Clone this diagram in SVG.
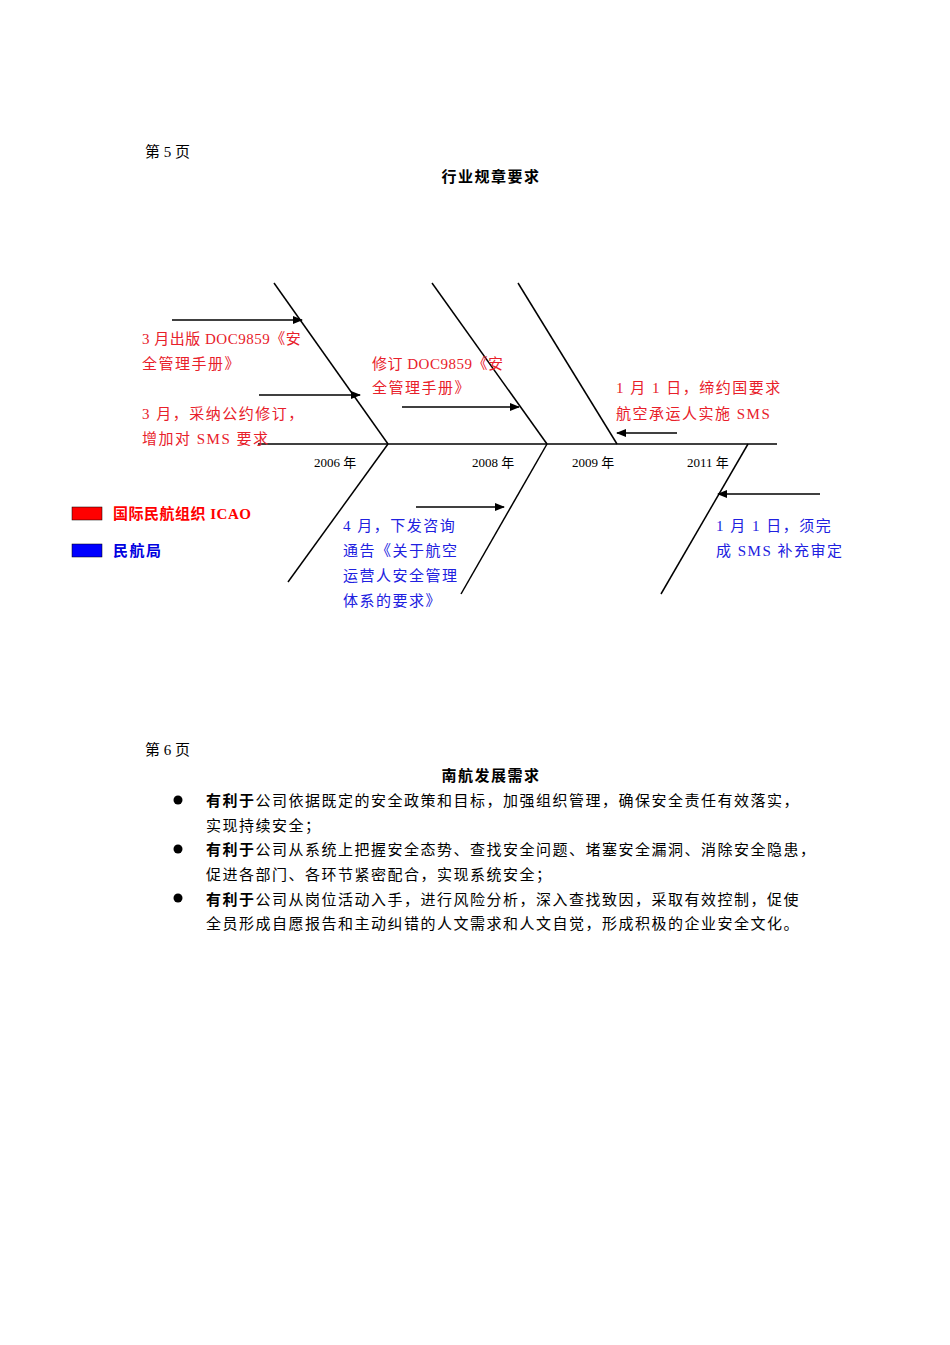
<svg xmlns="http://www.w3.org/2000/svg" width="950" height="1345" viewBox="0 0 950 1345">
<style>
text{font-family:"Liberation Serif","Noto Sans CJK SC",serif;font-size:15px;fill:#000;letter-spacing:1.5px}
.b{font-weight:bold}
.r{fill:#e8202a}
.bl{fill:#2020e0}
.yr{font-size:13px;letter-spacing:0}
.bone{stroke:#000;stroke-width:1.5;fill:none}
.arr{stroke:#000;stroke-width:1.3;fill:none;marker-end:url(#ah)}
</style>
<defs><marker id="ah" markerWidth="10" markerHeight="8" refX="9" refY="4" orient="auto" markerUnits="userSpaceOnUse"><path d="M0,0L10,4L0,8z" fill="#000"/></marker></defs>
<rect width="950" height="1345" fill="#fff"/>
<text x="145" y="157" style="letter-spacing:0">第 5 页</text>
<text x="491" y="182" text-anchor="middle" class="b">行业规章要求</text>
<g id="connectors">
<line class="bone" x1="258" y1="444" x2="777" y2="444" stroke-width="2"/>
<line class="bone" x1="274" y1="283" x2="388" y2="444"/>
<line class="bone" x1="388" y1="444" x2="288" y2="582"/>
<line class="bone" x1="432" y1="283" x2="547" y2="444"/>
<line class="bone" x1="547" y1="444" x2="461" y2="594"/>
<line class="bone" x1="518" y1="283" x2="617" y2="444"/>
<line class="bone" x1="748" y1="444" x2="661" y2="594"/>
<line class="arr" x1="172" y1="320" x2="302" y2="320"/>
<line class="arr" x1="259" y1="395" x2="360" y2="395"/>
<line class="arr" x1="402" y1="407" x2="519" y2="407"/>
<line class="arr" x1="677" y1="433" x2="617" y2="433"/>
<line class="arr" x1="416" y1="507" x2="504" y2="507"/>
<line class="arr" x1="820" y1="494" x2="718" y2="494"/>
</g>
<g id="years">
<text class="yr" x="314" y="467">2006 年</text>
<text class="yr" x="472" y="467">2008 年</text>
<text class="yr" x="572" y="467">2009 年</text>
<text class="yr" x="687" y="467">2011 年</text>
</g>
<g id="n1"><text class="r" x="142" y="344" style="letter-spacing:0.5px">3 月出版 DOC9859《安</text><text class="r" x="142" y="369">全管理手册》</text></g>
<g id="n2"><text class="r" x="142" y="419">3  月，采纳公约修订，</text><text class="r" x="142" y="444">增加对 SMS 要求</text></g>
<g id="n3"><text class="r" x="372" y="369" style="letter-spacing:0.5px">修订 DOC9859《安</text><text class="r" x="372" y="393">全管理手册》</text></g>
<g id="n4"><text class="r" x="616" y="393">1  月 1  日，缔约国要求</text><text class="r" x="616" y="419">航空承运人实施 SMS</text></g>
<g id="n5"><text class="bl" x="343" y="531">4  月，下发咨询</text><text class="bl" x="343" y="556">通告《关于航空</text><text class="bl" x="343" y="581">运营人安全管理</text><text class="bl" x="343" y="606">体系的要求》</text></g>
<g id="n6"><text class="bl" x="716" y="531">1  月 1  日，须完</text><text class="bl" x="716" y="556">成 SMS 补充审定</text></g>
<g id="legend">
<rect x="72" y="507" width="30" height="13" fill="#f00" stroke="#000" stroke-width="0.5"/>
<text class="b" x="113" y="519" style="fill:#f00;letter-spacing:0.5px">国际民航组织 ICAO</text>
<rect x="72" y="544" width="30" height="13" fill="#00f" stroke="#000" stroke-width="0.5"/>
<text class="b" x="113" y="556" style="fill:#0000e0">民航局</text>
</g>
<text x="145" y="755" style="letter-spacing:0">第 6 页</text>
<text x="491" y="781" text-anchor="middle" class="b">南航发展需求</text>
<g id="list">
<circle cx="178" cy="800" r="4.5" fill="#000"/>
<text x="206" y="806"><tspan class="b">有利于</tspan>公司依据既定的安全政策和目标，加强组织管理，确保安全责任有效落实，</text>
<text x="206" y="831">实现持续安全；</text>
<circle cx="178" cy="849" r="4.5" fill="#000"/>
<text x="206" y="855"><tspan class="b">有利于</tspan>公司从系统上把握安全态势、查找安全问题、堵塞安全漏洞、消除安全隐患，</text>
<text x="206" y="880">促进各部门、各环节紧密配合，实现系统安全；</text>
<circle cx="178" cy="898" r="4.5" fill="#000"/>
<text x="206" y="905"><tspan class="b">有利于</tspan>公司从岗位活动入手，进行风险分析，深入查找致因，采取有效控制，促使</text>
<text x="206" y="929">全员形成自愿报告和主动纠错的人文需求和人文自觉，形成积极的企业安全文化。</text>
</g>
</svg>
